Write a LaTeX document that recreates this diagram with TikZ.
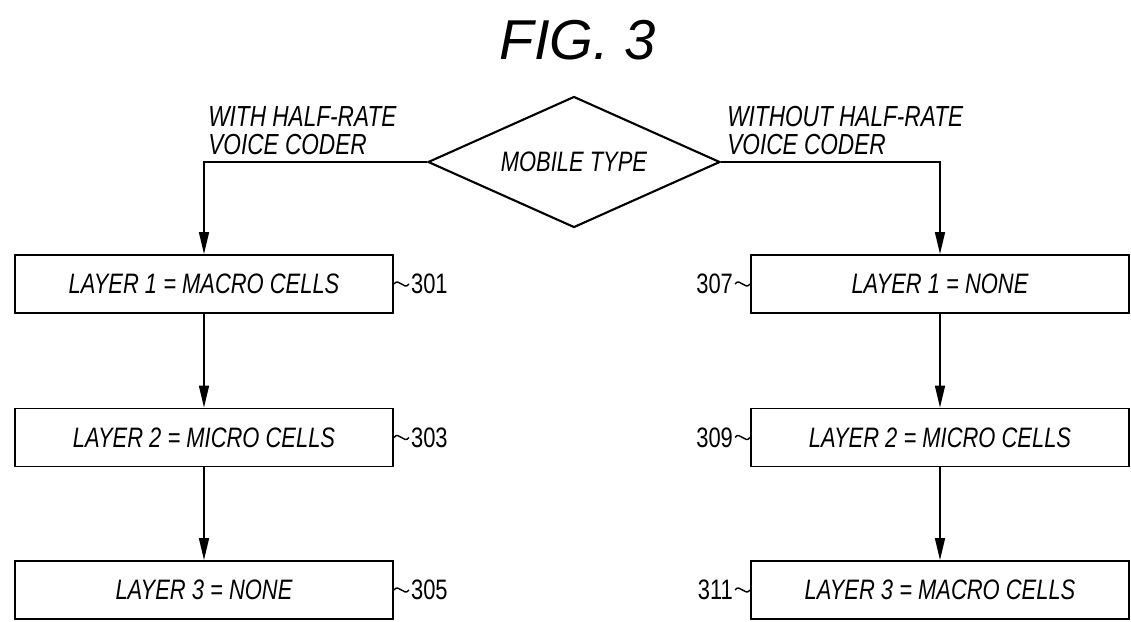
\documentclass[tikz,border=0pt]{standalone}
\usepackage{fontspec}
\setmainfont{Liberation Sans}
\newfontfamily\lettering{Liberation Sans}[FakeStretch=0.78]
\usetikzlibrary{arrows.meta, positioning, shapes.geometric}

\begin{document}
\begin{tikzpicture}[
  % one unit = one pixel of the sheet, y running downwards
  x=0.2mm, y=-0.2mm,
  layerbox/.style={
    draw, line width=1.1pt, minimum width=7.56cm, minimum height=1.16cm,
    inner sep=0pt, font=\lettering\itshape\fontsize{16}{16}\selectfont
  },
  decision/.style={
    draw, diamond, aspect=2.23, line width=1.2pt, minimum width=5.84cm,
    minimum height=2.62cm, inner sep=0pt,
    font=\lettering\itshape\fontsize{16}{16}\selectfont
  },
  flow/.style={-{Triangle[length=4.4mm,width=2mm]}, line width=0.9pt},
  branch/.style={font=\lettering\itshape\fontsize{16.5}{16}\selectfont,
                 align=left, inner sep=0pt, anchor=south west},
  refnum/.style={font=\lettering\fontsize{16}{16}\selectfont, inner sep=1pt},
  squiggle/.style={line width=0.8pt}
]
\useasboundingbox (0,0) rectangle (1131,621);

\def\xl{204}   % left column
\def\xr{940}   % right column

% --- title and decision ------------------------------------------------------
\node[font=\itshape\fontsize{32}{32}\selectfont] (title) at (578,40) {FIG.~3};
\node[decision] (type) at (574,162) {MOBILE TYPE};

% --- the two columns of layers -------------------------------------------------
\node[layerbox] (l1) at (\xl,284)   {LAYER 1 = MACRO CELLS};
\node[layerbox] (l2) at (\xl,437.5) {LAYER 2 = MICRO CELLS};
\node[layerbox] (l3) at (\xl,590)   {LAYER 3 = NONE};

\node[layerbox] (r1) at (\xr,284)   {LAYER 1 = NONE};
\node[layerbox] (r2) at (\xr,437.5) {LAYER 2 = MICRO CELLS};
\node[layerbox] (r3) at (\xr,590)   {LAYER 3 = MACRO CELLS};

% --- branches ----------------------------------------------------------------
\draw[flow] (type.west) -| (l1.north);
\draw[flow] (type.east) -| (r1.north);
\node[branch] (with)    at (208,155) {WITH HALF-RATE\\VOICE CODER};
\node[branch] (without) at (727,155) {WITHOUT HALF-RATE\\VOICE CODER};

\draw[flow] (l1) -- (l2);
\draw[flow] (l2) -- (l3);
\draw[flow] (r1) -- (r2);
\draw[flow] (r2) -- (r3);

% --- reference numerals --------------------------------------------------------
\node[refnum, right=0.3cm of l1] (n301) {301};
\node[refnum, right=0.3cm of l2] (n303) {303};
\node[refnum, right=0.3cm of l3] (n305) {305};
\node[refnum, left=0.3cm of r1]  (n307) {307};
\node[refnum, left=0.3cm of r2]  (n309) {309};
\node[refnum, left=0.3cm of r3]  (n311) {311};

\foreach \b/\n in {l1/n301, l2/n303, l3/n305}
  \draw[squiggle] (\b.east) .. controls +(5,-7) and +(-5,7) .. (\n.west);
\foreach \n/\b in {n307/r1, n309/r2, n311/r3}
  \draw[squiggle] (\n.east) .. controls +(5,-7) and +(-5,7) .. (\b.west);

\end{tikzpicture}
\end{document}
